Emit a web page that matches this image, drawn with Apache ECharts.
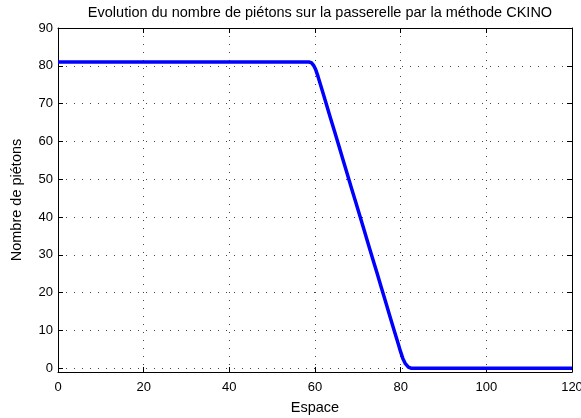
<!DOCTYPE html>
<html><head><meta charset="utf-8">
<script src="https://cdn.jsdelivr.net/npm/echarts@6/dist/echarts.min.js"></script>
<style>html,body{margin:0;padding:0;background:#fff}#c{width:581px;height:418px}</style>
</head><body><div id="c"></div>
<script>
var titleText = 'Evolution du nombre de piétons sur la passerelle par la méthode CKINO';
var xName = 'Espace';
var yName = 'Nombre de piétons';
var xTicks = [0, 20, 40, 60, 80, 100, 120];
var yTicks = [0, 10, 20, 30, 40, 50, 60, 70, 80, 90];
var xs = [0, 58.7, 59.2, 59.7, 60.2, 60.7, 61.5, 62.5, 63.5, 64.5, 65.5, 66.5, 67.5, 68.5, 69.5, 70.5, 71.5, 72.5, 73.5, 74.5, 75.5, 76.5, 77.5, 78.5, 79.5, 79.9, 80.5, 81.1, 81.8, 82.4, 120];
var ys = [81, 81, 80.76, 80.05, 78.86, 77.2, 74.2, 70.4, 66.6, 62.9, 59.1, 55.3, 51.5, 47.7, 44.0, 40.2, 36.4, 32.6, 28.8, 25.1, 21.3, 17.5, 13.7, 9.9, 6.2, 4.65, 2.6, 1.2, 0.3, 0, 0];

var data = xs.map(function (x, i) { return [x, ys[i]]; });
var font = 'Liberation Sans, Arial, Helvetica, sans-serif';
var grid = { left: 58, right: 9, top: 28, bottom: 46, containLabel: false, outerBoundsMode: 'none' };
var dotted = { color: '#444', width: 1, type: [1, 7] };

function xAx(pos, show) {
  return {
    type: 'value', position: pos, min: 0, max: 120, interval: 20,
    name: show ? xName : '', nameLocation: 'middle', nameGap: 28,
    nameTextStyle: { fontFamily: font, fontSize: 14.5, color: '#000' },
    axisLine: { show: true, onZero: false, lineStyle: { color: '#000', width: 1 } },
    axisTick: { show: true, inside: true, length: 5, lineStyle: { color: '#000' } },
    axisLabel: { show: show, margin: 9, fontFamily: font, fontSize: 13, color: '#000' },
    splitLine: { show: show, lineStyle: dotted }
  };
}
function yAx(pos, show) {
  return {
    type: 'value', position: pos, min: -1, max: 90,
    name: show ? yName : '', nameLocation: 'middle', nameGap: 34,
    nameTextStyle: { fontFamily: font, fontSize: 14.5, color: '#000' },
    axisLine: { show: true, onZero: false, lineStyle: { color: '#000', width: 1 } },
    axisTick: { show: true, inside: true, length: 5, customValues: yTicks, lineStyle: { color: '#000' } },
    axisLabel: { show: show, customValues: yTicks, margin: 5, fontFamily: font, fontSize: 13, color: '#000' },
    splitLine: { show: show, lineStyle: dotted }
  };
}

var chart = echarts.init(document.getElementById('c'), null, { renderer: 'canvas' });
chart.setOption({
  animation: false,
  backgroundColor: '#fff',
  title: { text: titleText, left: 315, top: 0, textAlign: 'center',
    textStyle: { fontFamily: font, fontSize: 14.5, fontWeight: 'normal', color: '#000' } },
  grid: grid,
  xAxis: [xAx('bottom', true), xAx('top', false)],
  yAxis: [yAx('left', true), yAx('right', false)],
  series: [{
    type: 'line', data: data, smooth: false, showSymbol: false, symbol: 'none',
    lineStyle: { color: '#0000ff', width: 3.5, join: 'round' }, z: 5
  }]
});
</script></body></html>
